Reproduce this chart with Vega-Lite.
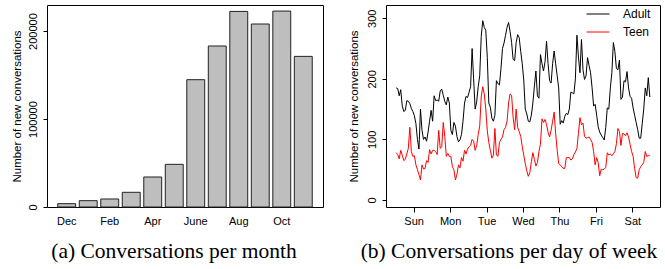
{
  "$schema": "https://vega.github.io/schema/vega-lite/v6.json",
  "background": "white",
  "padding": {"left": 10, "top": 1, "right": 2, "bottom": 2},
  "bounds": "flush",
  "spacing": 63,
  "resolve": {"legend": {"color": "independent"}, "scale": {"color": "independent"}},
  "config": {
    "view": {"stroke": "black", "strokeWidth": 1},
    "axis": {"labelFont": "Liberation Sans", "titleFont": "Liberation Sans", "labelFontSize": 11, "titleFontSize": 11.5, "labelColor": "black", "titleColor": "black", "tickColor": "black", "grid": false, "domain": false, "titleFontWeight": "normal"},
    "title": {"font": "Liberation Serif", "fontSize": 21.5, "fontWeight": "normal", "color": "black"},
    "legend": {"labelFont": "Liberation Sans", "labelFontSize": 12, "labelColor": "black"}
  },
  "hconcat": [
    {
      "width": 276,
      "height": 202,
      "title": {"text": "(a) Conversations per month", "orient": "bottom", "anchor": "middle", "frame": "group", "dx": -11, "offset": 15},
      "data": {"values": [
        {"month": "Dec", "count": 3800},
        {"month": "Jan", "count": 7200},
        {"month": "Feb", "count": 9100},
        {"month": "Mar", "count": 16700},
        {"month": "Apr", "count": 34100},
        {"month": "May", "count": 48500},
        {"month": "June", "count": 144700},
        {"month": "July", "count": 183000},
        {"month": "Aug", "count": 222300},
        {"month": "Sep", "count": 208000},
        {"month": "Oct", "count": 222700},
        {"month": "Nov", "count": 171200}
      ]},
      "mark": {"type": "bar", "fill": "#bebebe", "stroke": "#222222", "strokeWidth": 1},
      "encoding": {
        "x": {"field": "month", "type": "ordinal", "sort": null,
          "scale": {"paddingInner": 0.1667, "paddingOuter": 0.5},
          "axis": {"title": null, "values": ["Dec", "Feb", "Apr", "June", "Aug", "Oct"], "ticks": false, "labelAngle": 0, "labelPadding": 8}},
        "y": {"field": "count", "type": "quantitative",
          "scale": {"domain": [0, 229600], "nice": false, "zero": true},
          "axis": {"title": "Number of new conversations", "values": [0, 100000, 200000], "format": "d", "labelAngle": -90, "tickSize": 4, "labelPadding": 5, "titlePadding": 5}}
      }
    },
    {
      "width": 274,
      "height": 202,
      "title": {"text": "(b) Conversations per day of week", "orient": "bottom", "anchor": "middle", "frame": "group", "dx": -14, "offset": 15},
      "data": {"values": [
        {"h":0,"Adult":185,"Teen":78},{"h":1,"Adult":184,"Teen":75},{"h":2,"Adult":172,"Teen":68},{"h":3,"Adult":182,"Teen":82},
        {"h":4,"Adult":155,"Teen":74},{"h":5,"Adult":146,"Teen":65},{"h":6,"Adult":148,"Teen":67},{"h":7,"Adult":164,"Teen":76},
        {"h":8,"Adult":163,"Teen":85},{"h":9,"Adult":159,"Teen":120},{"h":10,"Adult":151,"Teen":80},{"h":11,"Adult":146,"Teen":72},
        {"h":12,"Adult":139,"Teen":73},{"h":13,"Adult":126,"Teen":58},{"h":14,"Adult":100,"Teen":50},{"h":15,"Adult":84,"Teen":42},
        {"h":16,"Adult":150,"Teen":33},{"h":17,"Adult":115,"Teen":58},{"h":18,"Adult":100,"Teen":51},{"h":19,"Adult":104,"Teen":52},
        {"h":20,"Adult":97,"Teen":65},{"h":21,"Adult":112,"Teen":62},{"h":22,"Adult":130,"Teen":83},{"h":23,"Adult":148,"Teen":76},
        {"h":24,"Adult":130,"Teen":82},{"h":25,"Adult":172,"Teen":82},{"h":26,"Adult":164,"Teen":80},{"h":27,"Adult":165,"Teen":75},
        {"h":28,"Adult":163,"Teen":115},{"h":29,"Adult":180,"Teen":85},{"h":30,"Adult":183,"Teen":88},{"h":31,"Adult":173,"Teen":128},
        {"h":32,"Adult":163,"Teen":105},{"h":33,"Adult":157,"Teen":72},{"h":34,"Adult":170,"Teen":77},{"h":35,"Adult":160,"Teen":72},
        {"h":36,"Adult":115,"Teen":72},{"h":37,"Adult":108,"Teen":55},{"h":38,"Adult":128,"Teen":50},{"h":39,"Adult":122,"Teen":33},
        {"h":40,"Adult":105,"Teen":42},{"h":41,"Adult":96,"Teen":58},{"h":42,"Adult":99,"Teen":53},{"h":43,"Adult":108,"Teen":70},
        {"h":44,"Adult":130,"Teen":64},{"h":45,"Adult":160,"Teen":82},{"h":46,"Adult":171,"Teen":76},{"h":47,"Adult":169,"Teen":84},
        {"h":48,"Adult":178,"Teen":88},{"h":49,"Adult":187,"Teen":90},{"h":50,"Adult":250,"Teen":100},{"h":51,"Adult":200,"Teen":97},
        {"h":52,"Adult":150,"Teen":82},{"h":53,"Adult":162,"Teen":90},{"h":54,"Adult":187,"Teen":108},{"h":55,"Adult":205,"Teen":122},
        {"h":56,"Adult":270,"Teen":170},{"h":57,"Adult":296,"Teen":187},{"h":58,"Adult":285,"Teen":175},{"h":59,"Adult":280,"Teen":150},
        {"h":60,"Adult":235,"Teen":114},{"h":61,"Adult":160,"Teen":95},{"h":62,"Adult":153,"Teen":82},{"h":63,"Adult":135,"Teen":69},
        {"h":64,"Adult":130,"Teen":74},{"h":65,"Adult":140,"Teen":118},{"h":66,"Adult":197,"Teen":74},{"h":67,"Adult":192,"Teen":72},
        {"h":68,"Adult":190,"Teen":95},{"h":69,"Adult":217,"Teen":100},{"h":70,"Adult":250,"Teen":104},{"h":71,"Adult":259,"Teen":116},
        {"h":72,"Adult":272,"Teen":120},{"h":73,"Adult":285,"Teen":130},{"h":74,"Adult":293,"Teen":160},{"h":75,"Adult":278,"Teen":175},
        {"h":76,"Adult":260,"Teen":173},{"h":77,"Adult":232,"Teen":136},{"h":78,"Adult":230,"Teen":116},{"h":79,"Adult":260,"Teen":150},
        {"h":80,"Adult":273,"Teen":120},{"h":81,"Adult":268,"Teen":113},{"h":82,"Adult":245,"Teen":105},{"h":83,"Adult":225,"Teen":88},
        {"h":84,"Adult":198,"Teen":74},{"h":85,"Adult":150,"Teen":60},{"h":86,"Adult":142,"Teen":48},{"h":87,"Adult":130,"Teen":39},
        {"h":88,"Adult":129,"Teen":45},{"h":89,"Adult":140,"Teen":63},{"h":90,"Adult":160,"Teen":78},{"h":91,"Adult":188,"Teen":67},
        {"h":92,"Adult":213,"Teen":56},{"h":93,"Adult":172,"Teen":62},{"h":94,"Adult":168,"Teen":80},{"h":95,"Adult":240,"Teen":92},
        {"h":96,"Adult":225,"Teen":134},{"h":97,"Adult":213,"Teen":128},{"h":98,"Adult":228,"Teen":133},{"h":99,"Adult":262,"Teen":125},
        {"h":100,"Adult":225,"Teen":112},{"h":101,"Adult":197,"Teen":104},{"h":102,"Adult":193,"Teen":115},{"h":103,"Adult":225,"Teen":130},
        {"h":104,"Adult":246,"Teen":145},{"h":105,"Adult":225,"Teen":110},{"h":106,"Adult":205,"Teen":82},{"h":107,"Adult":185,"Teen":60},
        {"h":108,"Adult":125,"Teen":58},{"h":109,"Adult":131,"Teen":55},{"h":110,"Adult":127,"Teen":52},{"h":111,"Adult":138,"Teen":52},
        {"h":112,"Adult":143,"Teen":70},{"h":113,"Adult":141,"Teen":70},{"h":114,"Adult":150,"Teen":70},{"h":115,"Adult":178,"Teen":66},
        {"h":116,"Adult":177,"Teen":68},{"h":117,"Adult":175,"Teen":75},{"h":118,"Adult":200,"Teen":79},{"h":119,"Adult":272,"Teen":85},
        {"h":120,"Adult":236,"Teen":110},{"h":121,"Adult":210,"Teen":136},{"h":122,"Adult":265,"Teen":124},{"h":123,"Adult":215,"Teen":127},
        {"h":124,"Adult":199,"Teen":105},{"h":125,"Adult":205,"Teen":102},{"h":126,"Adult":235,"Teen":103},{"h":127,"Adult":222,"Teen":104},
        {"h":128,"Adult":210,"Teen":100},{"h":129,"Adult":185,"Teen":95},{"h":130,"Adult":155,"Teen":80},{"h":131,"Adult":158,"Teen":58},
        {"h":132,"Adult":140,"Teen":70},{"h":133,"Adult":121,"Teen":62},{"h":134,"Adult":112,"Teen":40},{"h":135,"Adult":107,"Teen":51},
        {"h":136,"Adult":103,"Teen":50},{"h":137,"Adult":99,"Teen":51},{"h":138,"Adult":120,"Teen":54},{"h":139,"Adult":152,"Teen":78},
        {"h":140,"Adult":150,"Teen":74},{"h":141,"Adult":185,"Teen":76},{"h":142,"Adult":210,"Teen":73},{"h":143,"Adult":260,"Teen":76},
        {"h":144,"Adult":245,"Teen":80},{"h":145,"Adult":217,"Teen":93},{"h":146,"Adult":215,"Teen":118},{"h":147,"Adult":231,"Teen":113},
        {"h":148,"Adult":166,"Teen":90},{"h":149,"Adult":170,"Teen":110},{"h":150,"Adult":197,"Teen":109},{"h":151,"Adult":195,"Teen":106},
        {"h":152,"Adult":212,"Teen":111},{"h":153,"Adult":185,"Teen":104},{"h":154,"Adult":171,"Teen":92},{"h":155,"Adult":168,"Teen":80},
        {"h":156,"Adult":152,"Teen":72},{"h":157,"Adult":140,"Teen":52},{"h":158,"Adult":128,"Teen":37},{"h":159,"Adult":116,"Teen":36},
        {"h":160,"Adult":102,"Teen":50},{"h":161,"Adult":102,"Teen":55},{"h":162,"Adult":126,"Teen":58},{"h":163,"Adult":150,"Teen":62},
        {"h":164,"Adult":185,"Teen":80},{"h":165,"Adult":172,"Teen":72},{"h":166,"Adult":202,"Teen":73},{"h":167,"Adult":170,"Teen":74}
      ]},
      "transform": [{"fold": ["Adult", "Teen"], "as": ["group", "count"]}],
      "mark": {"type": "line", "strokeWidth": 1},
      "encoding": {
        "x": {"field": "h", "type": "quantitative",
          "scale": {"domain": [-6.7, 173.7], "nice": false, "zero": false},
          "axis": {"title": null, "values": [11.5, 35.5, 59.5, 83.5, 107.5, 131.5, 155.5], "labelExpr": "['Sun','Mon','Tue','Wed','Thu','Fri','Sat'][floor(datum.value / 24)]", "tickSize": 5, "labelPadding": 3, "labelAngle": 0}},
        "y": {"field": "count", "type": "quantitative",
          "scale": {"domain": [-11.6, 321.9], "nice": false, "zero": false},
          "axis": {"title": "Number of new conversations", "values": [0, 100, 200, 300], "labelAngle": -90, "tickSize": 4, "labelPadding": 5, "titlePadding": 7}},
        "color": {"field": "group", "type": "nominal",
          "scale": {"domain": ["Adult", "Teen"], "range": ["black", "red"]},
          "legend": {"title": null, "orient": "none", "legendX": 200, "legendY": -3, "symbolType": "stroke", "symbolSize": 529, "symbolStrokeWidth": 1, "labelOffset": 13, "rowPadding": -19, "padding": 0}}
      }
    }
  ]
}
